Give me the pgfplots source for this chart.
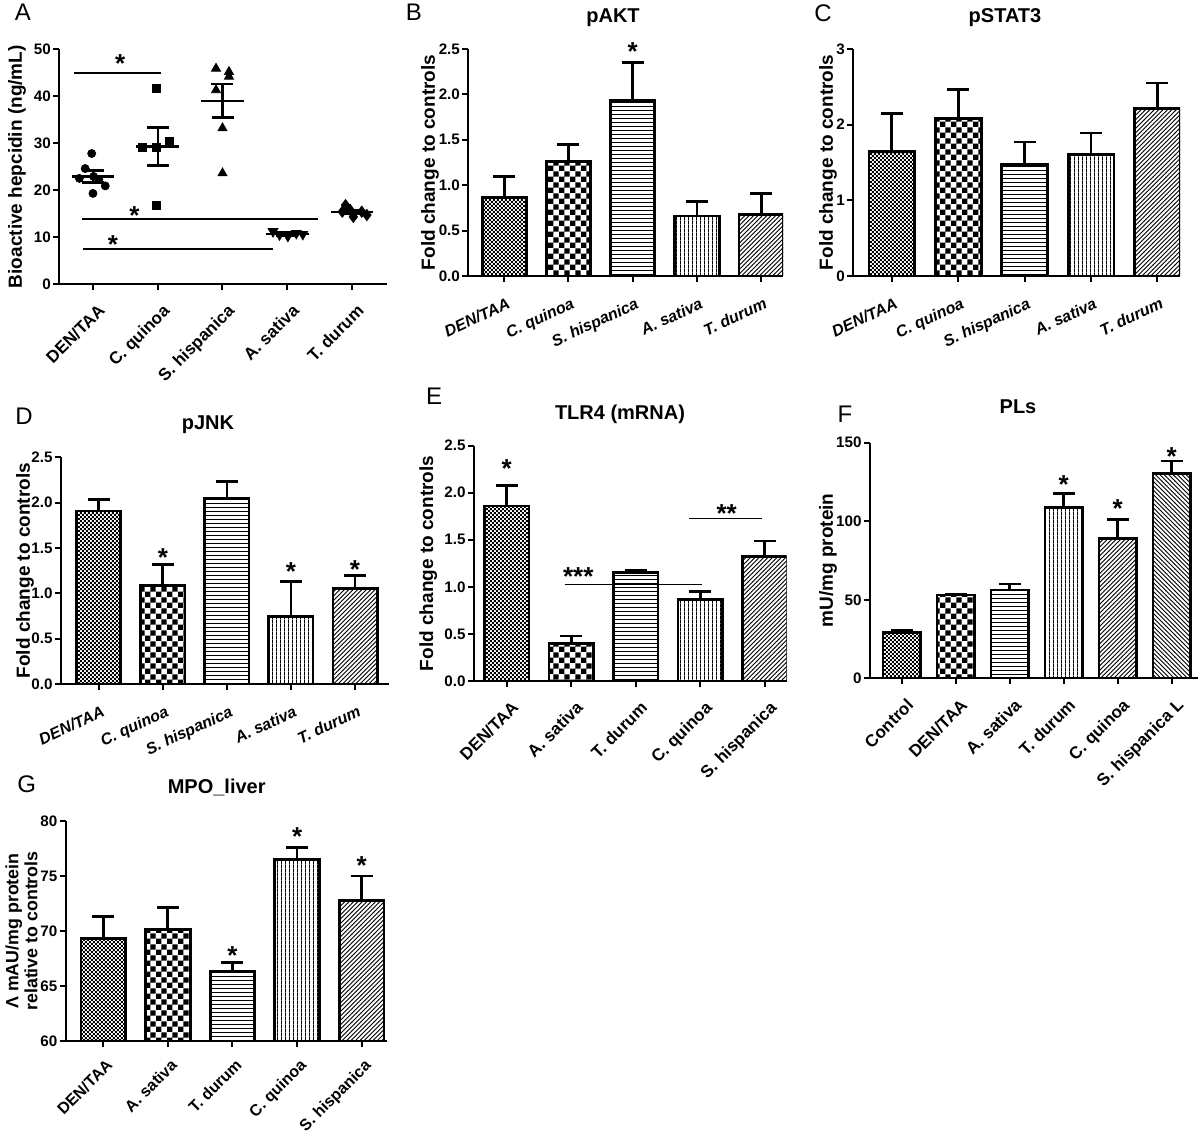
\documentclass[border=0pt]{standalone}
\usepackage{fontspec}
\setmainfont{Liberation Sans}
\usepackage{pgfplots}
\pgfplotsset{compat=1.18}
\usetikzlibrary{patterns}

\pgfdeclarepatternformonly{finechk}{\pgfpointorigin}{\pgfqpoint{2.2pt}{2.2pt}}{\pgfqpoint{2.2pt}{2.2pt}}{%
  \pgfpathrectangle{\pgfpointorigin}{\pgfqpoint{1.1pt}{1.1pt}}%
  \pgfpathrectangle{\pgfqpoint{1.1pt}{1.1pt}}{\pgfqpoint{1.1pt}{1.1pt}}%
  \pgfusepath{fill}}
\pgfdeclarepatternformonly{coarsechk}{\pgfpointorigin}{\pgfqpoint{5.6pt}{5.6pt}}{\pgfqpoint{5.6pt}{5.6pt}}{%
  \pgfpathrectangle{\pgfpointorigin}{\pgfqpoint{2.8pt}{2.8pt}}%
  \pgfpathrectangle{\pgfqpoint{2.8pt}{2.8pt}}{\pgfqpoint{2.8pt}{2.8pt}}%
  \pgfusepath{fill}}
\pgfdeclarepatternformonly{hl}{\pgfpointorigin}{\pgfqpoint{2.2pt}{2.2pt}}{\pgfqpoint{2.2pt}{2.2pt}}{%
  \pgfpathrectangle{\pgfpointorigin}{\pgfqpoint{2.3pt}{0.5pt}}%
  \pgfusepath{fill}}
\pgfdeclarepatternformonly{vl}{\pgfpointorigin}{\pgfqpoint{2.1pt}{2.1pt}}{\pgfqpoint{2.1pt}{2.1pt}}{%
  \pgfpathrectangle{\pgfpointorigin}{\pgfqpoint{0.5pt}{2.2pt}}%
  \pgfusepath{fill}}
\pgfdeclarepatternformonly{ne}{\pgfqpoint{-1pt}{-1pt}}{\pgfqpoint{3.2pt}{3.2pt}}{\pgfqpoint{2.2pt}{2.2pt}}{%
  \pgfsetlinewidth{0.45pt}%
  \pgfpathmoveto{\pgfqpoint{0pt}{0pt}}%
  \pgfpathlineto{\pgfqpoint{2.3pt}{2.3pt}}%
  \pgfusepath{stroke}}
\pgfdeclarepatternformonly{nw}{\pgfqpoint{-1pt}{-1pt}}{\pgfqpoint{3.2pt}{3.2pt}}{\pgfqpoint{2.2pt}{2.2pt}}{%
  \pgfsetlinewidth{0.45pt}%
  \pgfpathmoveto{\pgfqpoint{0pt}{2.2pt}}%
  \pgfpathlineto{\pgfqpoint{2.3pt}{-0.1pt}}%
  \pgfusepath{stroke}}

\newcommand{\bw}{0.69}
\newcommand{\pbar}[4]{\addplot[ybar, bar width=\bw, bar shift=0pt, draw=black, line width=1.4pt, pattern=#1,
  error bars/.cd, y dir=plus, y explicit,
  error bar style={line width=1.4pt, solid, draw=black},
  error mark options={rotate=90, line width=1.4pt, mark size=5.5pt, draw=black}]
  coordinates {(#2,#3) +- (0,#4)};}
\newcommand{\meanbar}[3]{%
  \addplot[line width=1.1pt, mark=none] coordinates {({#1-0.33},#2) ({#1+0.33},#2)};
  \addplot[draw=none, mark=none, error bars/.cd, y dir=both, y explicit,
   error bar style={line width=1.2pt, solid, draw=black},
   error mark options={rotate=90, line width=1.4pt, mark size=5.5pt, draw=black}]
   coordinates {(#1,#2) +- (0,#3)};}

\pgfplotsset{
  panel/.style={
    scale only axis, anchor=south west,
    axis x line=bottom, axis y line=left,
    axis line style={-, line width=1pt},
    tick align=outside, major tick length=3pt,
    tick style={black, line width=1pt},
    clip mode=individual,
    /pgf/number format/assume math mode=true,
    yticklabel style={font=\fontsize{7.6}{8}\selectfont\bfseries, inner sep=1pt},
    ylabel style={font=\fontsize{9.5}{11}\selectfont\bfseries, anchor=center},
    xtick={1,...,5}, minor tick num=0,
  },
  rot45/.style={xticklabel style={font=\fontsize{8.5}{9}\selectfont\bfseries, inner sep=1pt,
     xshift=2pt, yshift=-5pt, rotate=45, anchor=north east}},
  rot25/.style={xticklabel style={font=\fontsize{8}{9}\selectfont\bfseries\itshape, inner sep=1pt,
     xshift=1.5pt, yshift=-6pt, rotate=25, anchor=north east}},
  onedec/.style={yticklabel style={/pgf/number format/.cd, fixed, fixed zerofill, precision=1}},
}
\tikzset{star/.style={anchor=north, inner sep=0pt, font=\fontsize{13}{13}\selectfont\bfseries}}

\begin{document}
\begin{tikzpicture}
\useasboundingbox (0,0) rectangle (600pt,566pt);

% ---------- A ----------
\begin{axis}[panel, rot45, at={(29.65pt,424pt)}, width=163.85pt, height=117.35pt,
  xmin=0.48, xmax=5.54, ymin=0, ymax=50, ytick={0,10,...,50},
  xticklabels={DEN/TAA, C. quinoa, S. hispanica, A. sativa, T. durum},
  ylabel={Bioactive hepcidin (ng/mL)}, ylabel style={at={(axis description cs:-0.129,0.5)}}]
\addplot[only marks, mark=*, mark size=2pt, black] coordinates {
  (0.98,27.8) (0.88,24.6) (0.79,22.5) (1.01,22.9) (1.09,22.3) (1.19,20.9) (1.00,19.3)};
\addplot[only marks, mark=square*, mark size=2pt, black] coordinates {
  (1.975,41.7) (1.77,29.1) (1.975,29.1) (2.18,30.3) (1.975,16.7)};
\addplot[only marks, mark=triangle*, mark size=2.6pt, black] coordinates {
  (2.90,45.9) (3.10,45.2) (3.10,44.2) (2.90,41.3) (3.00,33.2) (3.00,23.6)};
\addplot[only marks, mark=triangle*, mark size=2.8pt, black, mark options={rotate=180}] coordinates {
  (3.78,11.2) (3.88,10.5) (4.01,10.2) (4.14,10.8) (4.24,10.6)};
\addplot[only marks, mark=diamond*, mark size=2.8pt, black] coordinates {
  (4.90,16.8) (4.85,15.4) (5.02,14.3) (5.15,15.4) (5.23,14.7) (4.97,15.8)};
\meanbar{1}{22.9}{1.2}
\meanbar{2}{29.3}{4.1}
\meanbar{3}{39.0}{3.6}
\meanbar{4}{10.66}{0.25}
\meanbar{5}{15.3}{0.3}
\draw[line width=0.8pt] (axis cs:0.70,45) -- (axis cs:2.05,45);
\draw[line width=0.8pt] (axis cs:0.83,13.85) -- (axis cs:4.47,13.85);
\draw[line width=0.8pt] (axis cs:0.85,7.4) -- (axis cs:3.78,7.4);
\node[star] at (axis cs:1.42,49.0) {*};
\node[star] at (axis cs:1.64,16.5) {*};
\node[star] at (axis cs:1.31,10.3) {*};
\end{axis}

% ---------- B ----------
\begin{axis}[panel, rot25, onedec, at={(234.15pt,428pt)}, width=157.35pt, height=113.5pt,
  xmin=0.44, xmax=5.34, ymin=0, ymax=2.5, ytick={0,0.5,...,2.5},
  xticklabels={DEN/TAA, C. quinoa, S. hispanica, A. sativa, T. durum},
  ylabel={Fold change to controls}, ylabel style={at={(axis description cs:-0.1217,0.5)}}]
\pbar{finechk}{1}{0.863}{0.237}
\pbar{coarsechk}{2}{1.26}{0.19}
\pbar{hl}{3}{1.93}{0.42}
\pbar{vl}{4}{0.66}{0.16}
\pbar{ne}{5}{0.68}{0.23}
\node[star] at (axis cs:3,2.58) {*};
\end{axis}

% ---------- C ----------
\begin{axis}[panel, rot25, at={(426.65pt,428pt)}, width=163.35pt, height=113.5pt,
  xmin=0.42, xmax=5.34, ymin=0, ymax=3, ytick={0,1,2,3},
  xticklabels={DEN/TAA, C. quinoa, S. hispanica, A. sativa, T. durum},
  ylabel={Fold change to controls}, ylabel style={at={(axis description cs:-0.0774,0.5)}}]
\pbar{finechk}{1}{1.643}{0.507}
\pbar{coarsechk}{2}{2.08}{0.39}
\pbar{hl}{3}{1.476}{0.294}
\pbar{vl}{4}{1.61}{0.28}
\pbar{ne}{5}{2.21}{0.34}
\end{axis}

% ---------- D ----------
\begin{axis}[panel, rot25, onedec, at={(30.5pt,224pt)}, width=164pt, height=113.35pt,
  xmin=0.41, xmax=5.53, ymin=0, ymax=2.5, ytick={0,0.5,...,2.5},
  xticklabels={DEN/TAA, C. quinoa, S. hispanica, A. sativa, T. durum},
  ylabel={Fold change to controls}, ylabel style={at={(axis description cs:-0.1098,0.5)}}]
\pbar{finechk}{1}{1.908}{0.13}
\pbar{coarsechk}{2}{1.09}{0.23}
\pbar{hl}{3}{2.05}{0.18}
\pbar{vl}{4}{0.74}{0.39}
\pbar{ne}{5}{1.055}{0.14}
\node[star] at (axis cs:2,1.50) {*};
\node[star] at (axis cs:4,1.34) {*};
\node[star] at (axis cs:5,1.37) {*};
\end{axis}

% ---------- E ----------
\begin{axis}[panel, rot45, onedec, at={(237pt,225.5pt)}, width=156.35pt, height=117.65pt,
  xmin=0.494, xmax=5.34, ymin=0, ymax=2.5, ytick={0,0.5,...,2.5},
  xticklabels={DEN/TAA, A. sativa, T. durum, C. quinoa, S. hispanica},
  ylabel={Fold change to controls}, ylabel style={at={(axis description cs:-0.146,0.5)}}]
\pbar{finechk}{1}{1.86}{0.215}
\pbar{coarsechk}{2}{0.40}{0.078}
\pbar{hl}{3}{1.15}{0.03}
\pbar{vl}{4}{0.868}{0.081}
\pbar{ne}{5}{1.32}{0.167}
\draw[line width=0.8pt] (axis cs:1.90,1.027) -- (axis cs:4.02,1.027);
\draw[line width=0.8pt] (axis cs:3.83,1.728) -- (axis cs:4.95,1.728);
\node[star] at (axis cs:1,2.355) {*};
\node[star] at (axis cs:2.11,1.204) {***};
\node[star] at (axis cs:4.41,1.88) {**};
\end{axis}

% ---------- F ----------
\begin{axis}[panel, rot45, at={(435pt,226.85pt)}, width=164pt, height=117.8pt,
  xmin=0.413, xmax=6.487, ymin=0, ymax=150, ytick={0,50,100,150}, xtick={1,...,6},
  xticklabels={Control, DEN/TAA, A. sativa, T. durum, C. quinoa, S. hispanica L},
  ylabel={mU/mg protein}, ylabel style={at={(axis description cs:-0.128,0.5)}}]
\pbar{finechk}{1}{29.1}{1.7}
\pbar{coarsechk}{2}{53.0}{0.7}
\pbar{hl}{3}{56.2}{3.8}
\pbar{vl}{4}{108.8}{9.0}
\pbar{ne}{5}{89.1}{12.1}
\pbar{nw}{6}{130.5}{7.8}
\node[star] at (axis cs:4,129.4) {*};
\node[star] at (axis cs:5,113.9) {*};
\node[star] at (axis cs:6,147.4) {*};
\end{axis}

% ---------- G ----------
\begin{axis}[panel, rot45, at={(32.85pt,45.5pt)}, width=160.5pt, height=110pt,
  xmin=0.418, xmax=5.387, ymin=60, ymax=80, ytick={60,65,...,80},
  xticklabels={DEN/TAA, A. sativa, T. durum, C. quinoa, S. hispanica},
  xticklabel style={font=\fontsize{8}{9}\selectfont\bfseries, yshift=1.5pt},
  ylabel={Λ mAU/mg protein\\relative to controls},
  ylabel style={at={(axis description cs:-0.1377,0.5)}, align=center, font=\fontsize{8.9}{9.5}\selectfont\bfseries}]
\pbar{finechk}{1}{69.33}{1.97}
\pbar{coarsechk}{2}{70.15}{1.97}
\pbar{hl}{3}{66.36}{0.76}
\pbar{vl}{4}{76.5}{1.1}
\pbar{ne}{5}{72.8}{2.2}
\node[star] at (axis cs:3,68.64) {*};
\node[star] at (axis cs:4,79.4) {*};
\node[star] at (axis cs:5,76.8) {*};
\end{axis}

% ---------- titles and panel letters (pixel coordinates) ----------
\begin{scope}[x=0.5pt, y=-0.5pt, shift={(0pt,566pt)}]
\tikzset{ttl/.style={anchor=base, inner sep=0pt, font=\fontsize{10}{12}\selectfont\bfseries},
         let/.style={inner sep=0pt, font=\fontsize{12}{12}\selectfont}}
\node[ttl] at (613,22.7) {pAKT};
\node[ttl] at (1005,22.7) {pSTAT3};
\node[ttl] at (208,430) {pJNK};
\node[ttl] at (620,420) {TLR4 (mRNA)};
\node[ttl] at (1018,414) {PLs};
\node[ttl] at (216.7,793.3) {MPO\_liver};
\node[let] at (22.8,12) {A};
\node[let] at (414,12.5) {B};
\node[let] at (823,13.3) {C};
\node[let] at (24,416) {D};
\node[let] at (434,396.7) {E};
\node[let] at (845,414.7) {F};
\node[let] at (26.7,784) {G};
\end{scope}
\end{tikzpicture}
\end{document}
